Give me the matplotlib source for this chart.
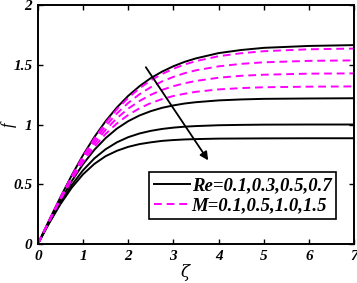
import matplotlib
matplotlib.use("Agg")
import matplotlib.pyplot as plt

zeta = [0, 0.25, 0.5, 0.75, 1, 1.25, 1.5, 1.75, 2, 2.25, 2.5, 2.75, 3, 3.25, 3.5, 4, 4.5, 5, 6, 7]

# f for Re = 0.1, 0.3, 0.5, 0.7 (solid)
f_re = [
    [0, 0.199, 0.392, 0.575, 0.744, 0.895, 1.028, 1.143, 1.240, 1.321, 1.389, 1.443, 1.488, 1.525, 1.554, 1.598, 1.624, 1.642, 1.658, 1.665],
    [0, 0.186, 0.364, 0.526, 0.668, 0.788, 0.886, 0.966, 1.028, 1.076, 1.112, 1.140, 1.160, 1.176, 1.187, 1.202, 1.210, 1.215, 1.218, 1.220],
    [0, 0.178, 0.345, 0.493, 0.617, 0.716, 0.793, 0.851, 0.894, 0.925, 0.947, 0.963, 0.974, 0.982, 0.987, 0.994, 0.997, 0.999, 1.000, 1.000],
    [0, 0.173, 0.333, 0.471, 0.583, 0.670, 0.735, 0.780, 0.813, 0.836, 0.851, 0.863, 0.870, 0.875, 0.878, 0.882, 0.883, 0.884, 0.885, 0.885],
]

# f for M = 0.1, 0.5, 1.0, 1.5 (dashed)
f_m = [
    [0, 0.196, 0.388, 0.568, 0.734, 0.883, 1.014, 1.128, 1.223, 1.303, 1.370, 1.423, 1.467, 1.503, 1.531, 1.572, 1.597, 1.614, 1.630, 1.636],
    [0, 0.194, 0.382, 0.558, 0.720, 0.863, 0.987, 1.093, 1.181, 1.254, 1.313, 1.361, 1.399, 1.430, 1.454, 1.487, 1.508, 1.521, 1.533, 1.537],
    [0, 0.191, 0.376, 0.548, 0.703, 0.839, 0.956, 1.053, 1.133, 1.197, 1.249, 1.290, 1.321, 1.346, 1.365, 1.392, 1.408, 1.417, 1.426, 1.428],
    [0, 0.189, 0.370, 0.537, 0.686, 0.814, 0.921, 1.009, 1.080, 1.136, 1.180, 1.213, 1.239, 1.258, 1.274, 1.294, 1.305, 1.312, 1.317, 1.319],
]

x_ticks = [0, 1, 2, 3, 4, 5, 6, 7]
y_ticks = [0, 0.5, 1, 1.5, 2]
y_tick_labels = ["0", "0.5", "1", "1.5", "2"]

label_re = "Re=0.1,0.3,0.5,0.7"
label_m = "M=0.1,0.5,1.0,1.5"

font = {"family": "Liberation Serif", "weight": "bold", "style": "italic"}

fig = plt.figure(figsize=(3.57, 2.83), dpi=100)
ax = fig.add_axes([0.106, 0.138, 0.886, 0.844])

for i, ys in enumerate(f_re):
    ax.plot(zeta, ys, color="black", lw=1.4, label=label_re if i == 0 else None)
for i, ys in enumerate(f_m):
    ax.plot(zeta, ys, color="#ff00ff", lw=1.4, dashes=(4, 2.5),
            label=label_m if i == 0 else None)

ax.annotate("", xy=(3.77, 0.70), xytext=(2.39, 1.48),
            arrowprops=dict(arrowstyle="-|>", color="black", lw=1.3,
                            mutation_scale=12, shrinkA=0, shrinkB=0))

ax.set_xlim(0, 7)
ax.set_ylim(0, 2)
ax.set_xticks(x_ticks)
ax.set_xticklabels([str(t) for t in x_ticks], fontdict=font, fontsize=11)
ax.set_yticks(y_ticks)
ax.set_yticklabels(y_tick_labels, fontdict=font, fontsize=11)
ax.tick_params(direction="in", top=True, right=True, length=3.5, width=1, pad=4)
for s in ax.spines.values():
    s.set_linewidth(1.4)

ax.set_xlabel("ζ", fontsize=12, fontstyle="italic", family="DejaVu Serif")
ax.set_ylabel("f", fontsize=12, fontstyle="italic", family="Liberation Serif")
ax.xaxis.set_label_coords(0.465, -0.085)
ax.yaxis.set_label_coords(-0.065, 0.5)

leg = ax.legend(loc="lower right", bbox_to_anchor=(0.943, 0.105),
                prop={"family": "Liberation Serif", "weight": "bold",
                      "style": "italic", "size": 13.5},
                handlelength=1.9, handletextpad=0.1, borderpad=0.25,
                labelspacing=0.15, borderaxespad=0, fancybox=False,
                framealpha=1, edgecolor="black")
leg.get_frame().set_linewidth(1.2)

fig.savefig("out.png", dpi=100)
